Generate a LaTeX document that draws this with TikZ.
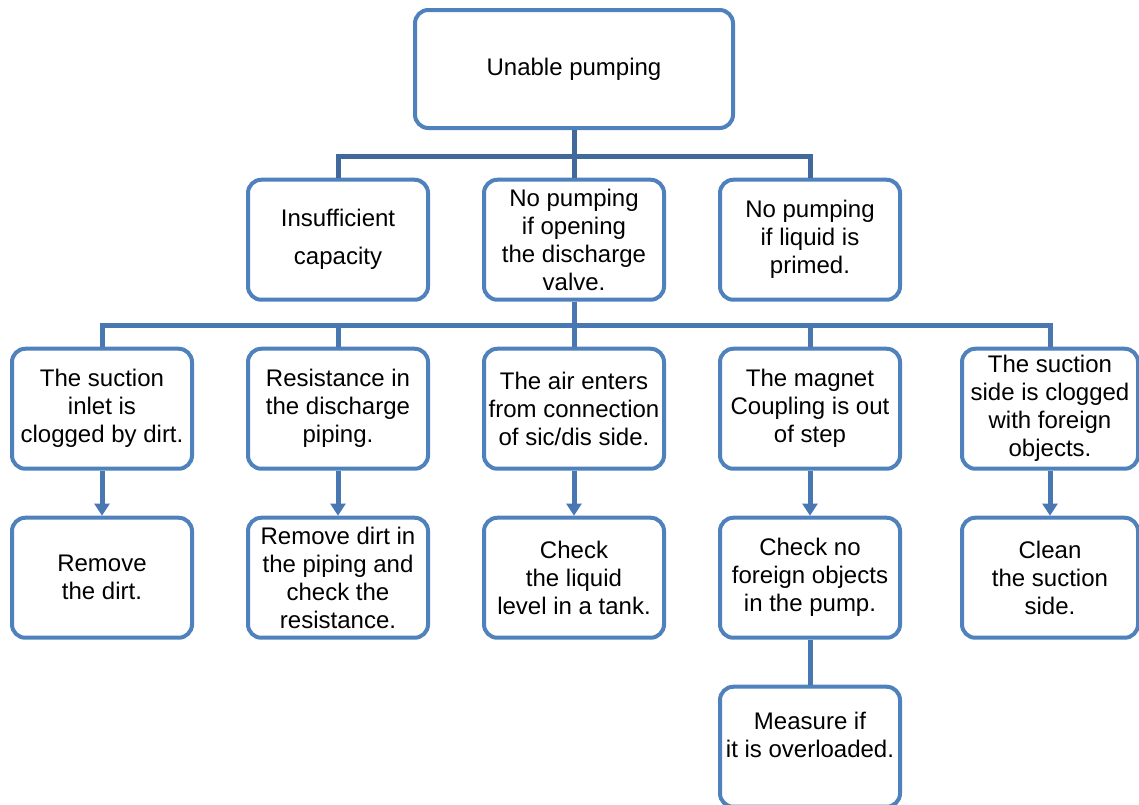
\documentclass[tikz,border=0pt]{standalone}
\usepackage{fontspec}
\setmainfont{Liberation Sans}
\usetikzlibrary{arrows.meta,positioning}
\definecolor{boxblue}{HTML}{4F81BD}
\definecolor{busblue}{HTML}{41699C}
\definecolor{linkblue}{HTML}{4877B2}

\begin{document}
\begin{tikzpicture}[x=0.75pt,y=-0.75pt,
                    node distance=33.75pt and 39pt,
                    every node/.style={draw=boxblue,line width=3pt,rounded corners=10pt,fill=white,
                                       minimum width=135pt,minimum height=90pt,inner sep=2pt,
                                       align=center,font=\fontsize{18pt}{21pt}\selectfont},
                    trunk/.style={draw=busblue,line width=3.75pt},
                    link/.style={draw=linkblue,line width=3.75pt},
                    >={Triangle[width=11pt,length=9pt]}]

\useasboundingbox (0,0) rectangle (1139,804);

\node[minimum width=238.5pt,minimum height=88.5pt] (top) at (574,69) {Unable pumping};

% causes
\node[below=35.8pt of top] (b22) {No pumping\\if opening\\the discharge\\valve.};
\node[left=of b22] (b21) {Insufficient\\[7.5pt]capacity};
\node[right=of b22] (b23) {No pumping\\if liquid is\\primed.};

\path (top.south) ++(0,26) coordinate (bus1);
\draw[trunk] (b21.north) |- (bus1) -| (b23.north);
\draw[trunk] (top.south) -- (top.south |- b22.north);

% reasons
\node[below=of b22] (b33) {The air enters\\from connection\\of sic/dis side.};
\node[left=of b33] (b32) {Resistance in\\the discharge\\piping.};
\node[left=of b32] (b31) {The suction\\inlet is\\clogged by dirt.};
\node[right=of b33] (b34) {The magnet\\Coupling is out\\of step};
\node[right=43.5pt of b34,minimum width=132pt] (b35) {The suction\\side is clogged\\with foreign\\objects.};

\path (b22.south) ++(0,24) coordinate (bus2);
\draw[link] (b31.north) |- (bus2) -| (b35.north);
\draw[link] (b22.south) -- (b33.north);
\draw[link] (b32.north) -- (b32.north |- bus2);
\draw[link] (b34.north) -- (b34.north |- bus2);

% remedies
\node[below=of b31] (b41) {Remove\\the dirt.} edge[link,<-] (b31);
\node[below=of b32] (b42) {Remove dirt in\\the piping and\\check the\\resistance.} edge[link,<-] (b32);
\node[below=of b33] (b43) {Check\\the liquid\\level in a tank.} edge[link,<-] (b33);
\node[below=of b34] (b44) {Check no\\foreign objects\\in the pump.} edge[link,<-] (b34);
\node[below=of b35,minimum width=132pt] (b45) {Clean\\the suction\\side.} edge[link,<-] (b35);

\node[below=of b44] (b5) {Measure if\\it is overloaded.\\[-3pt]~} edge[link] (b44);

\end{tikzpicture}
\end{document}
